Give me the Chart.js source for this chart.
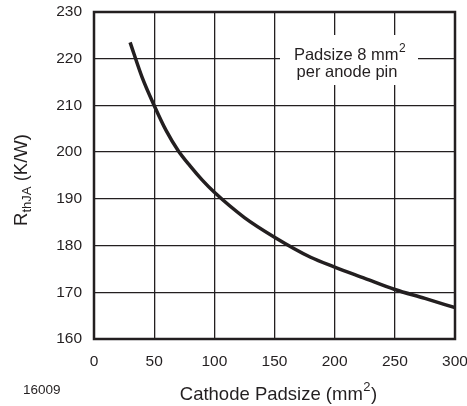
<!DOCTYPE html>
<html>
<head>
<meta charset="utf-8">
<script src="https://cdn.jsdelivr.net/npm/chart.js@4/dist/chart.umd.min.js"></script>
<style>
  html, body { margin: 0; padding: 0; background: #fff; }
  #wrap { width: 467px; height: 406px; position: relative; }
</style>
</head>
<body>
<div id="wrap"><canvas id="chart"></canvas></div>
<script>
// =============================
// DATA
// =============================
const padsize = [30, 40, 50, 60, 70, 80, 90, 100, 125, 150, 180, 200, 225, 250, 275, 300];
const rthja   = [223.5, 216, 210, 204.6, 200.3, 197, 194, 191.4, 186, 181.8, 177.5, 175.4, 173, 170.6, 168.7, 166.7];

const xTicks = [0, 50, 100, 150, 200, 250, 300];
const yTicks = [160, 170, 180, 190, 200, 210, 220, 230];

const FONT = '"Liberation Sans", Arial, sans-serif';
const INK = '#231f20';

// =============================
// PLUGIN: frame, note box, axis titles
// =============================
const decor = {
  id: 'decor',
  beforeDatasetsDraw(chart) {
    const { ctx } = chart;
    ctx.save();
    // white box behind the note, over the grid
    ctx.fillStyle = '#fff';
    ctx.fillRect(280, 35, 138, 50);
    ctx.fillStyle = INK;
    ctx.textBaseline = 'alphabetic';
    ctx.textAlign = 'left';
    ctx.font = '16.5px ' + FONT;
    const l1 = 'Padsize 8 mm';
    const w1 = ctx.measureText(l1).width;
    ctx.font = '12px ' + FONT;
    const ws = ctx.measureText('2').width;
    const x1 = 349.5 - (w1 + ws) / 2;
    ctx.font = '16.5px ' + FONT;
    ctx.fillText(l1, x1, 59.5);
    ctx.font = '12px ' + FONT;
    ctx.fillText('2', x1 + w1 + 0.5, 52);
    ctx.font = '16.5px ' + FONT;
    ctx.textAlign = 'center';
    ctx.fillText('per anode pin', 347, 76.5);
    ctx.restore();
  },
  afterDatasetsDraw(chart) {
    const { ctx, chartArea: a } = chart;
    ctx.save();
    ctx.strokeStyle = INK;
    ctx.lineWidth = 2.5;
    ctx.strokeRect(a.left, a.top, a.right - a.left, a.bottom - a.top);

    // x axis title with superscript
    ctx.fillStyle = INK;
    ctx.textBaseline = 'alphabetic';
    ctx.textAlign = 'left';
    const t1 = 'Cathode Padsize (mm', t2 = '2', t3 = ')';
    ctx.font = '18.5px ' + FONT;
    const w1 = ctx.measureText(t1).width, w3 = ctx.measureText(t3).width;
    ctx.font = '13px ' + FONT;
    const w2 = ctx.measureText(t2).width;
    const x = 278 - (w1 + w2 + w3) / 2;
    ctx.font = '18.5px ' + FONT;
    ctx.fillText(t1, x, 399.5);
    ctx.font = '13px ' + FONT;
    ctx.fillText(t2, x + w1 + 0.5, 391);
    ctx.font = '18.5px ' + FONT;
    ctx.fillText(t3, x + w1 + w2 + 1, 399.5);

    // figure number
    ctx.font = '13.5px ' + FONT;
    ctx.fillText('16009', 23, 394);

    // y axis title R_thJA (K/W), rotated
    ctx.translate(27, 180);
    ctx.rotate(-Math.PI / 2);
    ctx.font = '18.5px ' + FONT;
    const r = 'R', s = 'thJA', u = ' (K/W)';
    const wr = ctx.measureText(r).width, wu = ctx.measureText(u).width;
    ctx.font = '13px ' + FONT;
    const wsub = ctx.measureText(s).width;
    const y0 = -(wr + wsub + wu) / 2;
    ctx.font = '18.5px ' + FONT;
    ctx.fillText(r, y0, 0);
    ctx.font = '13px ' + FONT;
    ctx.fillText(s, y0 + wr, 3.5);
    ctx.font = '18.5px ' + FONT;
    ctx.fillText(u, y0 + wr + wsub, 0);
    ctx.restore();
  }
};

// drop the label overhang so the plot box sits where the reference has it
function noOverhang(s) {
  s.paddingLeft = 0; s.paddingRight = 0; s.paddingTop = 0; s.paddingBottom = 0;
}

// =============================
// CHART
// =============================
new Chart(document.getElementById('chart'), {
  type: 'scatter',
  data: {
    datasets: [{
      data: padsize.map((p, i) => ({ x: p, y: rthja[i] })),
      showLine: true,
      borderColor: INK,
      borderWidth: 3.5,
      pointRadius: 0,
      tension: 0.4,
      cubicInterpolationMode: 'monotone',
      fill: false
    }]
  },
  options: {
    responsive: true,
    maintainAspectRatio: false,
    animation: false,
    layout: { padding: { top: 12, right: 12, left: 0, bottom: 0 } },
    plugins: { legend: { display: false }, tooltip: { enabled: false } },
    scales: {
      x: {
        type: 'linear',
        min: 0, max: 300,
        afterBuildTicks: s => { s.ticks = xTicks.map(v => ({ value: v })); },
        afterFit: s => { s.height = 67; noOverhang(s); },
        grid: { color: INK, lineWidth: 1.3, drawTicks: false },
        border: { display: false },
        ticks: { color: INK, padding: 13, font: { family: FONT, size: 15.5 }, maxRotation: 0 }
      },
      y: {
        min: 160, max: 230,
        afterBuildTicks: s => { s.ticks = yTicks.map(v => ({ value: v })); },
        afterFit: s => { s.width = 94; noOverhang(s); },
        grid: { color: INK, lineWidth: 1.3, drawTicks: false },
        border: { display: false },
        ticks: { color: INK, padding: 12, font: { family: FONT, size: 15.5 } }
      }
    }
  },
  plugins: [decor]
});
</script>
</body>
</html>
